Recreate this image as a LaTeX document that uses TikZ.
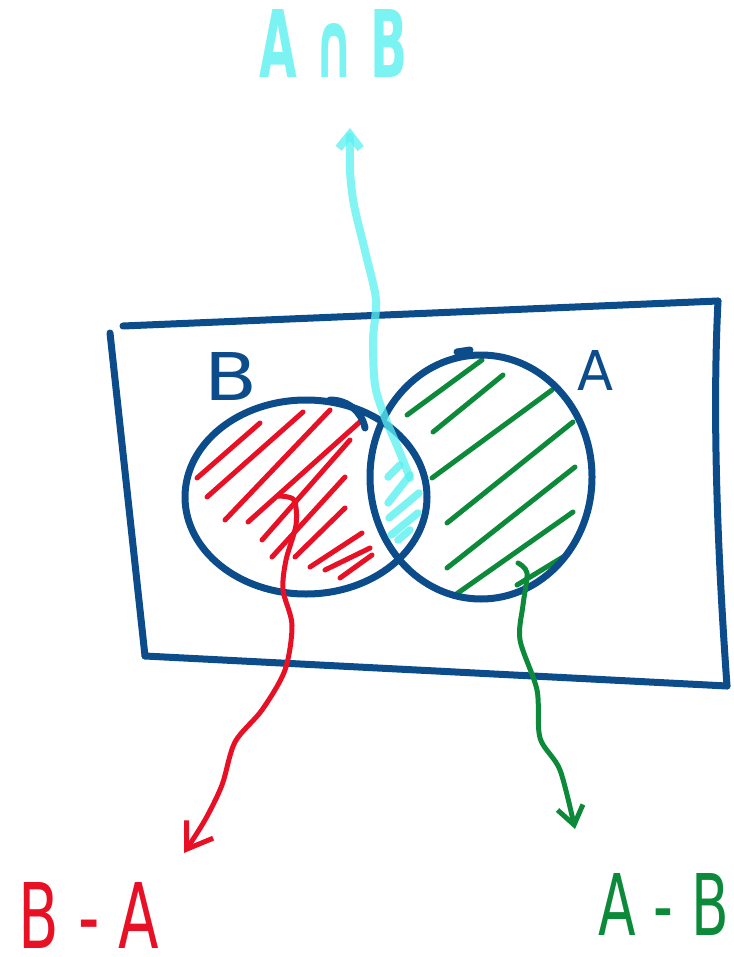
\documentclass[tikz,border=0pt]{standalone}
\usepackage{fontspec}
\setmainfont{DejaVu Sans}
\usepackage{graphicx}
\usetikzlibrary{arrows.meta}
\definecolor{setblue}{RGB}{12,76,138}
\definecolor{setred}{RGB}{232,16,36}
\definecolor{setgreen}{RGB}{12,138,58}
\definecolor{setcyan}{RGB}{90,240,240}
\begin{document}
\begin{tikzpicture}[x=1pt,y=-1pt,line cap=round,line join=round,
  outline/.style={draw=setblue,line width=7pt},
  redhatch/.style={draw=setred,line width=5pt},
  greenhatch/.style={draw=setgreen,line width=5pt},
  cyanhatch/.style={draw=setcyan,line width=7.5pt,opacity=0.8},
  redarrow/.style={draw=setred,line width=5pt,-{Straight Barb[length=24pt,width=32pt,line width=5pt]}},
  greenarrow/.style={draw=setgreen,line width=5pt,-{Straight Barb[length=18pt,width=26pt,line width=5pt]}},
  cyanarrow/.style={draw=setcyan,line width=8pt,opacity=0.75,-{Straight Barb[length=14pt,width=22pt,line width=8pt]}},
  lbl/.style={inner sep=0pt,anchor=center}]
\useasboundingbox (0,0) rectangle (733,957);

% universe rectangle
\coordinate (tl) at (123,326);
\coordinate (tr) at (718,301);
\coordinate (br) at (727,686);
\coordinate (bl) at (145,656);
\coordinate (lt) at (110,333);
\draw[outline] (tl) -- (tr);
\draw[outline] (tr) .. controls (712,420) and (718,560) .. (br);
\draw[outline] (br) -- (bl);
\draw[outline] (bl) -- (lt);

% hatching B - A
\draw[redhatch] (197,478) -- (260,423);
\draw[redhatch] (207,497) -- (303,412);
\draw[redhatch] (225,520) -- (330,410);
\draw[redhatch] (248,522) -- (362,420);
\draw[redhatch] (262,540) -- (350,440);
\draw[redhatch] (272,557) -- (345,477);
\draw[redhatch] (295,557) -- (345,508);
\draw[redhatch] (310,567) -- (362,533);
\draw[redhatch] (325,570) -- (370,548);
\draw[redhatch] (340,578) -- (372,555);

% hatching A - B
\draw[greenhatch] (407,415) -- (482,360);
\draw[greenhatch] (433,432) -- (503,375);
\draw[greenhatch] (432,478) -- (552,390);
\draw[greenhatch] (447,523) -- (573,422);
\draw[greenhatch] (447,568) -- (575,467);
\draw[greenhatch] (455,595) -- (573,512);
\draw[greenhatch] (517,585) -- (563,557);

% circles
\coordinate (cB) at (306,497);
\coordinate (cA) at (481,477);
\draw[outline] (cB) ellipse [x radius=121, y radius=97];
\draw[outline] (cA) ellipse [x radius=111, y radius=122];
\draw[outline] (330,400) .. controls (348,400) and (362,412) .. (365,428);
\draw[outline] (457,352) -- (470,350);

% hatching intersection
\draw[cyanhatch] (388,477) -- (400,465);
\draw[cyanhatch] (388,503) -- (410,475);
\draw[cyanhatch] (389,518) -- (419,493);
\draw[cyanhatch] (391,535) -- (418,513);
\draw[cyanhatch] (398,540) -- (410,530);

% labels
\node[lbl,text=setblue] (labB) at (231,376) {\resizebox{53pt}{48pt}{B}};
\node[lbl,text=setblue] (labA) at (595,370) {\resizebox{36pt}{40pt}{A}};
\node[lbl,text=setcyan,opacity=0.8] (labAB) at (334,43) {\resizebox{148pt}{68pt}{\bfseries A ∩ B}};
\node[lbl,text=setred] (labBA) at (89,915) {\resizebox{140pt}{66pt}{B - A}};
\node[lbl,text=setgreen] (labAmB) at (664,904) {\resizebox{130pt}{62pt}{A - B}};

% arrows
\coordinate (redfrom) at (278,496);
\coordinate (redto) at (184,853);
\draw[redarrow] plot[smooth] coordinates {(redfrom) (294,500) (296,525) (286,560) (283,590) (292,625) (285,670) (262,710) (235,742) (222,785) (205,820) (redto)};
\coordinate (greenfrom) at (518,563);
\coordinate (greento) at (575,829);
\draw[greenarrow] plot[smooth] coordinates {(greenfrom) (527,573) (523,605) (520,640) (537,690) (540,738) (560,770) (greento)};
\coordinate (cyanfrom) at (410,478);
\coordinate (cyanto) at (350,128);
\draw[cyanarrow] plot[smooth] coordinates {(cyanfrom) (398,448) (384,415) (375,385) (373,340) (376,300) (366,255) (354,205) (350,170) (cyanto)};
\end{tikzpicture}
\end{document}
